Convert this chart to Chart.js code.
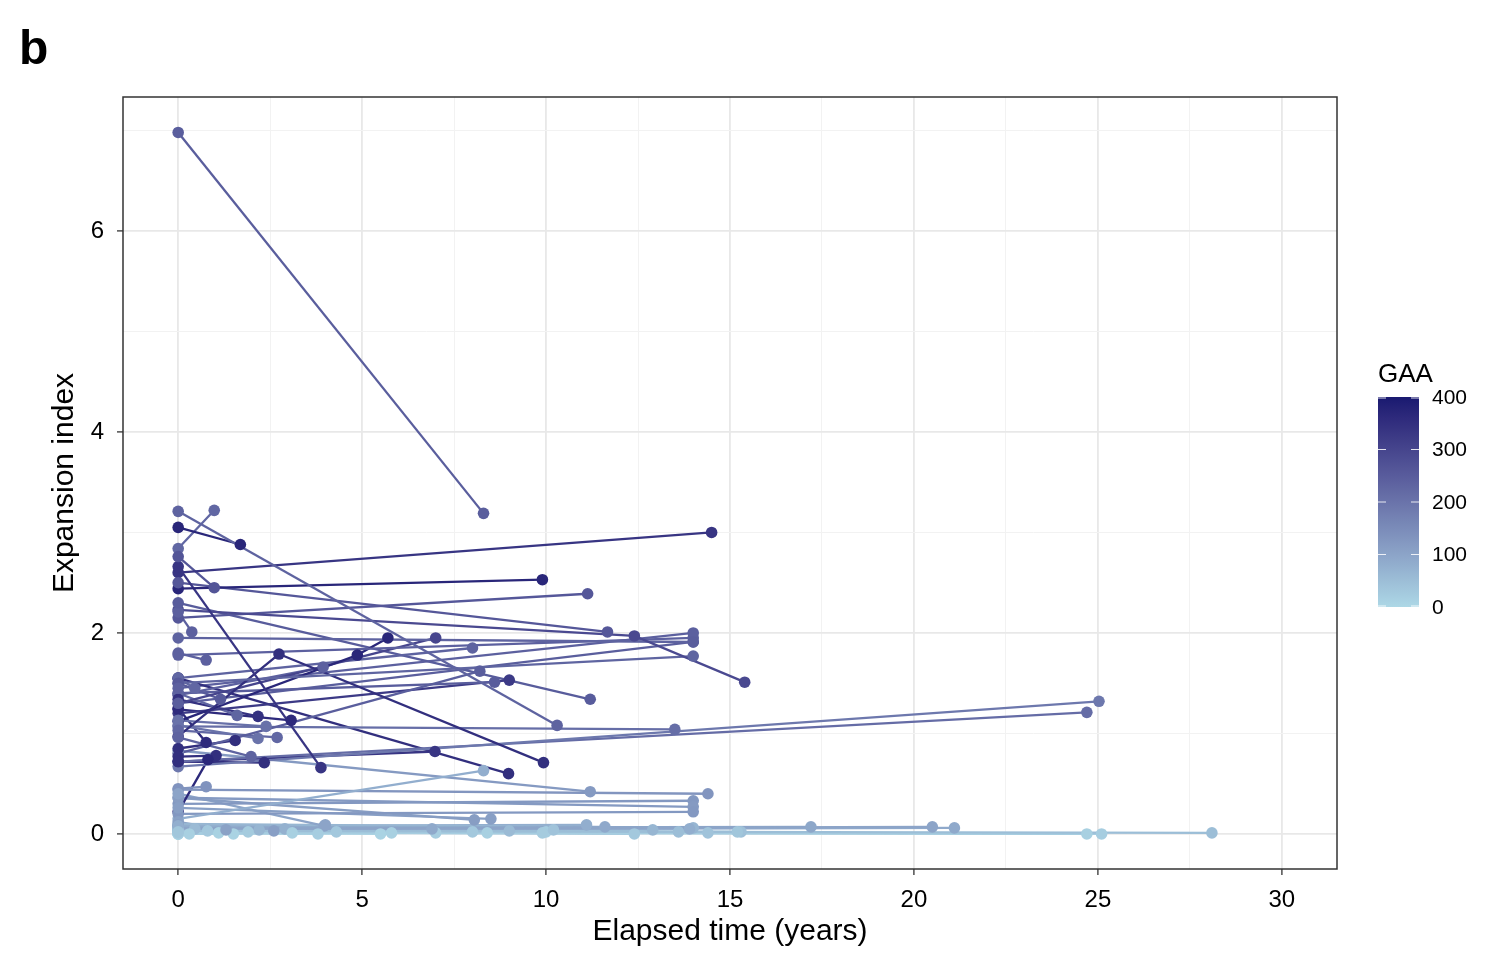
<!DOCTYPE html>
<html>
<head>
<meta charset="utf-8">
<script src="https://cdn.jsdelivr.net/npm/chart.js@4"></script>
<style>
  body { margin: 0; background: #ffffff; }
  canvas { display: block; }
</style>
</head>
<body>
<canvas id="chart" width="1509" height="955"></canvas>
<script>
// one entry per individual: visit times (years), expansion index, GAA repeat
const elapsed = [
  [0, 8.3], [0, 10.3], [0, 1.69], [0, 0.98], [0, 14.5], [0, 9.9], [0, 3.88], [0, 0.98],
  [0, 11.67], [0, 12.4, 15.4], [0, 11.13], [0, 0.37], [0, 14], [0, 0.76], [0, 14], [0, 14],
  [0, 2.74, 9.93], [0, 4.87, 5.7], [0, 7.0], [0, 3.94], [0, 8.0], [0, 8.2], [0, 8.6], [0, 9.0],
  [0, 11.2], [0, 13.5], [0, 25.03], [0, 24.7], [0, 8.98], [0, 6.98], [0, 8.3], [0, 11.2],
  [0, 14.4], [0, 0.76], [0, 0.45], [0, 1.15], [0, 1.6], [0, 2.17], [0, 3.07], [0, 2.39],
  [0, 2.17], [0, 2.69], [0, 0.76], [0, 1.55], [0, 1.98], [0, 1.03], [0, 0.81], [0, 2.34],
  [0, 14], [0, 14], [0, 14], [0, 14], [0, 14], [0, 8.05], [0, 8.5], [0, 3.97],
  [0, 28.1], [0, 25.1], [0, 24.7], [0, 20.5], [0, 21.1], [0, 17.2], [0, 15.3], [0, 14.4],
  [0, 14.0], [0, 11.1], [0, 11.6], [0, 10.0], [0, 9.9], [0, 12.4], [0, 13.6], [0, 7.0],
  [0, 5.5], [0, 5.8], [0, 4.0], [0, 2.9], [0, 3.1], [0, 2.2], [0, 1.5], [0, 1.1],
  [0, 0.45], [0, 0.8], [0, 8.0], [0, 8.4], [0, 3.8], [0, 12.9], [0, 6.9], [0, 1.9],
  [0, 9.0], [0, 0.3], [0, 1.3], [0, 2.6], [0, 4.3], [0, 10.2], [0, 13.9], [0, 15.2]
];
const expansion = [
  [6.98, 3.19], [3.21, 1.08], [3.05, 2.88], [2.84, 3.22], [2.60, 3.00], [2.44, 2.53], [2.66, 0.66], [2.76, 2.45],
  [2.50, 2.01], [2.23, 1.97, 1.51], [2.15, 2.39], [2.21, 2.01], [1.95, 1.91], [1.80, 1.73], [1.78, 1.95], [1.50, 1.77],
  [0.97, 1.79, 0.71], [1.12, 1.78, 1.95], [1.30, 1.95], [1.38, 1.66], [1.55, 1.85], [0.80, 1.62], [1.40, 1.51], [1.20, 1.53],
  [2.30, 1.34], [1.07, 1.04], [0.67, 1.32], [0.72, 1.21], [1.55, 0.60], [0.72, 0.82], [0.15, 0.63], [0.83, 0.42],
  [0.44, 0.40], [0.45, 0.47], [1.55, 1.45], [1.50, 1.34], [1.40, 1.18], [1.34, 1.17], [1.24, 1.13], [1.13, 1.07],
  [1.08, 0.95], [1.03, 0.96], [1.25, 0.91], [0.85, 0.93], [0.96, 0.77], [0.77, 0.78], [0.22, 0.74], [0.72, 0.71],
  [1.45, 2.00], [1.30, 1.91], [0.30, 0.33], [0.36, 0.27], [0.20, 0.22], [0.36, 0.14], [0.26, 0.15], [0.40, 0.08],
  [0.03, 0.01], [0.01, 0.00], [0.02, 0.00], [0.05, 0.07], [0.04, 0.06], [0.06, 0.07], [0.04, 0.02], [0.03, 0.01],
  [0.10, 0.06], [0.08, 0.09], [0.07, 0.07], [0.00, 0.02], [0.02, 0.01], [0.02, 0.00], [0.04, 0.02], [0.03, 0.01],
  [0.01, 0.00], [0.02, 0.01], [0.06, 0.09], [0.03, 0.05], [0.00, 0.01], [0.02, 0.04], [0.01, 0.00], [0.00, 0.01],
  [0.04, 0.05], [0.02, 0.03], [0.04, 0.02], [0.01, 0.01], [0.02, 0.00], [0.05, 0.04], [0.07, 0.05], [0.05, 0.02],
  [0.06, 0.03], [0.00, 0.00], [0.12, 0.04], [0.09, 0.03], [0.01, 0.02], [0.03, 0.04], [0.08, 0.05], [0.02, 0.02]
];
const gaa = [
  245, 235, 370, 225, 335, 370, 335, 265,
  260, 290, 260, 240, 235, 240, 240, 230,
  350, 370, 300, 240, 235, 245, 250, 325,
  250, 210, 190, 215, 350, 335, 80, 120,
  130, 135, 225, 255, 230, 345, 360, 205,
  200, 225, 360, 350, 235, 350, 365, 350,
  240, 245, 125, 120, 125, 115, 110, 100,
  50, 20, 15, 100, 90, 95, 45, 40,
  65, 80, 90, 20, 25, 30, 50, 20,
  10, 15, 100, 75, 15, 65, 10, 12,
  55, 30, 30, 15, 20, 65, 90, 25,
  55, 15, 105, 110, 30, 40, 80, 35
];

const xTickValues = [0, 2.5, 5, 7.5, 10, 12.5, 15, 17.5, 20, 22.5, 25, 27.5, 30];
const yTickValues = [0, 1, 2, 3, 4, 5, 6, 7];
const gaaTicks = [0, 100, 200, 300, 400];
const gaaMax = 400;

const FONT = "'Liberation Sans', Arial, sans-serif";
const LOW = "#ADD8E6";   // lightblue
const HIGH = "#191970";  // midnightblue

// colour ramp in CIELAB like ggplot's gradient
function hexToLab(hex) {
  var rgb = [1, 3, 5].map(function(i) { return parseInt(hex.slice(i, i + 2), 16) / 255; });
  var lin = rgb.map(function(c) { return c <= 0.04045 ? c / 12.92 : Math.pow((c + 0.055) / 1.055, 2.4); });
  var X = (0.4124564 * lin[0] + 0.3575761 * lin[1] + 0.1804375 * lin[2]) / 0.95047;
  var Y = 0.2126729 * lin[0] + 0.7151522 * lin[1] + 0.0721750 * lin[2];
  var Z = (0.0193339 * lin[0] + 0.1191920 * lin[1] + 0.9503041 * lin[2]) / 1.08883;
  var f = function(t) { return t > 0.008856 ? Math.cbrt(t) : 7.787 * t + 16 / 116; };
  return [116 * f(Y) - 16, 500 * (f(X) - f(Y)), 200 * (f(Y) - f(Z))];
}

function labToRgb(lab) {
  var fy = (lab[0] + 16) / 116, fx = fy + lab[1] / 500, fz = fy - lab[2] / 200;
  var inv = function(t) { var t3 = t * t * t; return t3 > 0.008856 ? t3 : (t - 16 / 116) / 7.787; };
  var X = inv(fx) * 0.95047, Y = inv(fy), Z = inv(fz) * 1.08883;
  var lin = [
    3.2404542 * X - 1.5371385 * Y - 0.4985314 * Z,
    -0.9692660 * X + 1.8760108 * Y + 0.0415560 * Z,
    0.0556434 * X - 0.2040259 * Y + 1.0572252 * Z
  ];
  var out = lin.map(function(c) {
    var v = c <= 0.0031308 ? 12.92 * c : 1.055 * Math.pow(c, 1 / 2.4) - 0.055;
    return Math.round(Math.max(0, Math.min(1, v)) * 255);
  });
  return "rgb(" + out.join(",") + ")";
}

var labLow = hexToLab(LOW), labHigh = hexToLab(HIGH);
function gaaColor(v) {
  var t = Math.max(0, Math.min(1, v / gaaMax));
  return labToRgb([0, 1, 2].map(function(i) { return labLow[i] + (labHigh[i] - labLow[i]) * t; }));
}

// datasets: one line per individual, then all points on top
var datasets = [];
var allPoints = [];
var pointColors = [];
for (var i = 0; i < gaa.length; i++) {
  var col = gaaColor(gaa[i]);
  var pts = elapsed[i].map(function(t, j) { return { x: t, y: expansion[i][j] }; });
  datasets.push({
    data: pts,
    showLine: true,
    borderColor: col,
    borderWidth: 2.3,
    pointRadius: 0,
    order: 1,
  });
  pts.forEach(function(p) { allPoints.push(p); pointColors.push(col); });
}
datasets.push({
  data: allPoints,
  showLine: false,
  pointRadius: 5.8,
  pointBorderWidth: 0,
  pointBackgroundColor: pointColors,
  order: 0,
});

var decorations = {
  id: "decorations",
  afterDatasetsDraw: function(chart) {
    var ctx = chart.ctx, a = chart.chartArea;
    ctx.save();
    ctx.strokeStyle = "#333333";
    ctx.lineWidth = 1.5;
    ctx.strokeRect(a.left, a.top, a.right - a.left, a.bottom - a.top);
    ctx.restore();
  },
  afterDraw: function(chart) {
    var ctx = chart.ctx, a = chart.chartArea;
    ctx.save();
    ctx.fillStyle = "#000000";
    ctx.font = "bold 48px " + FONT;
    ctx.textBaseline = "alphabetic";
    ctx.textAlign = "left";
    ctx.fillText("b", 19, 64);

    ctx.font = "30px " + FONT;
    ctx.textAlign = "center";
    ctx.textBaseline = "middle";
    ctx.fillText("Elapsed time (years)", (a.left + a.right) / 2, 932);
    ctx.save();
    ctx.translate(65, (a.top + a.bottom) / 2);
    ctx.rotate(-Math.PI / 2);
    ctx.fillText("Expansion index", 0, 0);
    ctx.restore();

    // GAA colourbar
    var bx = 1378, bw = 41, top = 397, bottom = 607;
    ctx.textAlign = "left";
    ctx.textBaseline = "alphabetic";
    ctx.font = "26px " + FONT;
    ctx.fillText("GAA", 1378, 382);
    var grad = ctx.createLinearGradient(0, bottom, 0, top);
    for (var s = 0; s <= 20; s++) grad.addColorStop(s / 20, gaaColor(gaaMax * s / 20));
    ctx.fillStyle = grad;
    ctx.fillRect(bx, top, bw, bottom - top);
    ctx.strokeStyle = "rgba(255,255,255,0.85)";
    ctx.lineWidth = 1;
    ctx.font = "21px " + FONT;
    ctx.fillStyle = "#000000";
    ctx.textBaseline = "middle";
    gaaTicks.forEach(function(v) {
      var y = bottom - (bottom - top) * v / gaaMax;
      var yy = Math.min(bottom - 1, Math.max(top + 1, y));
      ctx.beginPath();
      ctx.moveTo(bx, yy); ctx.lineTo(bx + 8, yy);
      ctx.moveTo(bx + bw - 8, yy); ctx.lineTo(bx + bw, yy);
      ctx.stroke();
      ctx.fillText(String(v), 1432, y + 1);
    });
    ctx.restore();
  }
};

function isMajor(v, step) { return Math.abs(v / step - Math.round(v / step)) < 1e-6; }

new Chart(document.getElementById("chart"), {
  type: "scatter",
  data: { datasets: datasets },
  options: {
    responsive: false,
    animation: false,
    devicePixelRatio: 1,
    layout: { padding: { left: 0, right: 172, top: 97, bottom: 0 } },
    plugins: { legend: { display: false }, tooltip: { enabled: false } },
    scales: {
      x: {
        type: "linear",
        min: -1.5,
        max: 31.5,
        afterBuildTicks: function(axis) { axis.ticks = xTickValues.map(function(v) { return { value: v }; }); },
        afterFit: function(axis) { axis.height = 86; },
        border: { display: false },
        grid: {
          color: function(c) { return c.tick && isMajor(c.tick.value, 5) ? "#e8e8e8" : "#f2f2f2"; },
          lineWidth: function(c) { return c.tick && isMajor(c.tick.value, 5) ? 1.8 : 1; },
          tickColor: function(c) { return c.tick && isMajor(c.tick.value, 5) ? "#333333" : "rgba(0,0,0,0)"; },
          tickLength: 6,
          tickWidth: 1.3,
        },
        ticks: {
          autoSkip: false,
          maxRotation: 0,
          padding: 11,
          color: "#000000",
          font: { family: FONT, size: 24 },
          callback: function(v) { return isMajor(v, 5) ? String(v) : ""; },
        },
      },
      y: {
        type: "linear",
        min: -0.349,
        max: 7.333,
        afterBuildTicks: function(axis) { axis.ticks = yTickValues.map(function(v) { return { value: v }; }); },
        afterFit: function(axis) { axis.width = 123; },
        border: { display: false },
        grid: {
          color: function(c) { return c.tick && isMajor(c.tick.value, 2) ? "#e8e8e8" : "#f2f2f2"; },
          lineWidth: function(c) { return c.tick && isMajor(c.tick.value, 2) ? 1.8 : 1; },
          tickColor: function(c) { return c.tick && isMajor(c.tick.value, 2) ? "#333333" : "rgba(0,0,0,0)"; },
          tickLength: 6,
          tickWidth: 1.3,
        },
        ticks: {
          autoSkip: false,
          padding: 13,
          color: "#000000",
          font: { family: FONT, size: 24 },
          callback: function(v) { return isMajor(v, 2) ? String(v) : ""; },
        },
      },
    },
  },
  plugins: [decorations],
});
</script>
</body>
</html>
